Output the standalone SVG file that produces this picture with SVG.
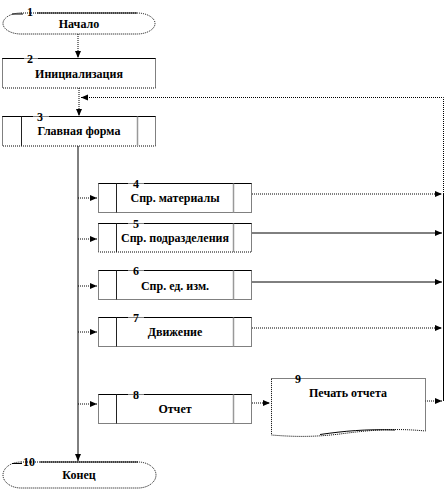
<svg xmlns="http://www.w3.org/2000/svg" width="446" height="492" viewBox="0 0 446 492">
<style>
  .dot{fill:none;stroke:#000;stroke-width:1;stroke-dasharray:1,1}
  .sol{fill:none;stroke:#000;stroke-width:1}
  .bar{stroke:#222;stroke-width:1}
  .bar2{stroke:#999;stroke-width:1.5}
  .shape{fill:#fff;stroke:#000;stroke-width:1;stroke-dasharray:1,1}
  .num{font-weight:bold;font-size:12px;fill:#000}
  .lbl{font-weight:bold;font-size:12px;fill:#000;text-anchor:middle}
</style>
<defs>
  <marker id="ah" markerWidth="8" markerHeight="8" refX="7" refY="4" orient="auto" markerUnits="userSpaceOnUse">
    <path d="M0,1 L7,4 L0,7 Z" fill="#000"/>
  </marker>
</defs>

<g id="connectors">
  <path class="dot" d="M78,34 V58" marker-end="url(#ah)"/>
  <path class="dot" d="M79,88 V116" marker-end="url(#ah)"/>
  <path class="sol" d="M78,146 V461" marker-end="url(#ah)"/>
  <path class="dot" d="M78,198 H97" marker-end="url(#ah)"/>
  <path class="dot" d="M78,239 H97" marker-end="url(#ah)"/>
  <path class="dot" d="M78,286 H97" marker-end="url(#ah)"/>
  <path class="dot" d="M78,332 H97" marker-end="url(#ah)"/>
  <path class="dot" d="M78,404 H97" marker-end="url(#ah)"/>
  <path class="dot" d="M252,194 H442" marker-end="url(#ah)"/>
  <path class="sol" d="M252,233 H442" marker-end="url(#ah)"/>
  <path class="sol" d="M252,282 H442" marker-end="url(#ah)"/>
  <path class="dot" d="M252,328 H442" marker-end="url(#ah)"/>
  <path class="dot" d="M252,403 H270" marker-end="url(#ah)"/>
  <path class="dot" d="M425,401 H442" marker-end="url(#ah)"/>
  <path class="sol" d="M443.5,401 V194"/>
  <path class="dot" d="M443.5,194 V97.5 H81" marker-end="url(#ah)"/>
</g>

<g font-family="'Liberation Serif', 'Times New Roman', 'DejaVu Serif', serif">
<g id="node1">
  <path class="shape" d="M21,13 H137 A18,10.5 0 0 1 137,34 H21 A18,10.5 0 0 1 21,13 Z"/>
  <path class="sol" d="M12,14 H23 M37,13 H137"/>
  <text class="num" x="27" y="16">1</text>
  <text class="lbl" x="79" y="28">Начало</text>
</g>

<g id="node2">
  <rect class="shape" x="2.5" y="58.5" width="153" height="29.5"/>
  <path class="sol" d="M2.5,58.5 H24 M38,58.5 H155.5"/>
  <text class="num" x="27" y="63">2</text>
  <text class="lbl" x="79" y="78">Инициализация</text>
</g>

<g id="node3">
  <rect class="shape" x="2.5" y="116.5" width="153" height="29.5"/>
  <path class="sol" d="M2.5,116.5 H33 M49,116.5 H155.5"/>
  <line class="bar" x1="21.5" y1="116.5" x2="21.5" y2="146"/>
  <line class="bar2" x1="137.5" y1="116.5" x2="137.5" y2="146"/>
  <text class="num" x="37" y="121">3</text>
  <text class="lbl" x="79" y="135">Главная форма</text>
</g>

<g id="node4">
  <rect class="shape" x="98.5" y="183.5" width="153" height="29"/>
  <path class="sol" d="M98.5,183.5 H128 M144,183.5 H251.5"/>
  <line class="bar" x1="116.5" y1="183.5" x2="116.5" y2="212.5"/>
  <line class="bar2" x1="233.5" y1="183.5" x2="233.5" y2="212.5"/>
  <text class="num" x="133" y="188">4</text>
  <text class="lbl" x="175" y="202">Спр. материалы</text>
</g>

<g id="node5">
  <rect class="shape" x="98.5" y="223.5" width="153" height="28.5"/>
  <path class="sol" d="M98.5,223.5 H128 M144,223.5 H251.5"/>
  <line class="bar" x1="116.5" y1="223.5" x2="116.5" y2="252"/>
  <line class="bar2" x1="233.5" y1="223.5" x2="233.5" y2="252"/>
  <text class="num" x="133" y="228">5</text>
  <text class="lbl" x="175" y="242">Спр. подразделения</text>
</g>

<g id="node6">
  <rect class="shape" x="98.5" y="270.5" width="153" height="29"/>
  <path class="sol" d="M98.5,270.5 H128 M144,270.5 H251.5"/>
  <line class="bar" x1="116.5" y1="270.5" x2="116.5" y2="299.5"/>
  <line class="bar2" x1="233.5" y1="270.5" x2="233.5" y2="299.5"/>
  <text class="num" x="133" y="275">6</text>
  <text class="lbl" x="175" y="290">Спр. ед. изм.</text>
</g>

<g id="node7">
  <rect class="shape" x="98.5" y="317.5" width="153" height="29"/>
  <path class="sol" d="M98.5,317.5 H128 M144,317.5 H251.5"/>
  <line class="bar" x1="116.5" y1="317.5" x2="116.5" y2="346.5"/>
  <line class="bar2" x1="233.5" y1="317.5" x2="233.5" y2="346.5"/>
  <text class="num" x="133" y="322">7</text>
  <text class="lbl" x="175" y="336">Движение</text>
</g>

<g id="node8">
  <rect class="shape" x="98.5" y="394.5" width="153" height="29"/>
  <path class="sol" d="M98.5,394.5 H128 M144,394.5 H251.5"/>
  <line class="bar" x1="116.5" y1="394.5" x2="116.5" y2="423.5"/>
  <line class="bar2" x1="233.5" y1="394.5" x2="233.5" y2="423.5"/>
  <text class="num" x="133" y="399">8</text>
  <text class="lbl" x="175" y="413">Отчет</text>
</g>

<g id="node9">
  <path class="shape" d="M271.5,378.5 H425.5 V431 C395,428 370,430 340,434 C315,437 295,437 271.5,435 Z"/>
  <path class="sol" d="M320,434.5 C345,431 365,429 395,430"/>
  <text class="num" x="295" y="383">9</text>
  <text class="lbl" x="348" y="397">Печать отчета</text>
</g>

<g id="node10">
  <path class="shape" d="M21,462 H138 A18,13 0 0 1 138,488 H21 A18,13 0 0 1 21,462 Z"/>
  <path class="sol" d="M12,463.5 H22 M40,462 H138"/>
  <text class="num" x="23" y="466">10</text>
  <text class="lbl" x="79" y="479">Конец</text>
</g>
</g>
</svg>
